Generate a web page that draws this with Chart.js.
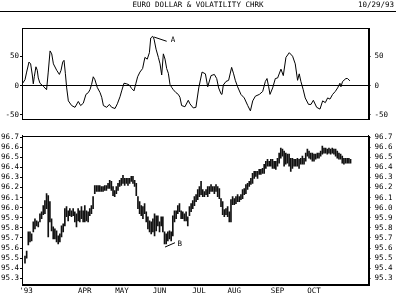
<!DOCTYPE html>
<html><head><meta charset="utf-8">
<script src="https://cdn.jsdelivr.net/npm/chart.js@4.4.0/dist/chart.umd.min.js"></script>
<style>
html,body{margin:0;padding:0;background:#fff;}
#wrap{position:relative;width:396px;height:297px;overflow:hidden;background:#fff;}
#c1{position:absolute;left:0;top:0;}
#c2{position:absolute;left:0;top:127px;}
</style></head><body>
<div id="wrap"><canvas id="c1" width="396" height="127"></canvas><canvas id="c2" width="396" height="170"></canvas></div>
<script>
const titleText = "EURO DOLLAR & VOLATILITY CHRK";
const dateText = "10/29/93";
const monthLabels = ["'93","APR","MAY","JUN","JUL","AUG","SEP","OCT"];
const monthPos = [0.6,36,58.4,81,104.7,126,152,174];
const volTicks = [-50,0,50];
const priceTicks = [95.3,95.4,95.5,95.6,95.7,95.8,95.9,96.0,96.1,96.2,96.3,96.4,96.5,96.6,96.7];

const volDay = [-1.4,0,1.0,2.4,3.4,4.4,5.0,5.6,6.6,7.4,8.0,9.0,11.0,13.0,14.0,15.1,16.1,17.1,19.1,20.7,21.7,22.7,23.5,24.3,25.1,26.1,28.1,30.1,32.1,33.5,35.1,36.7,38.1,39.1,40.1,41.1,42.1,43.5,45.2,46.2,47.2,49.2,50.8,52.2,54.2,55.6,57.2,58.2,59.6,61.2,62.8,64.2,65.6,66.8,67.8,69.2,70.8,72.2,73.6,74.9,75.7,76.9,77.7,78.9,80.3,81.3,82.3,83.3,84.3,85.3,86.3,87.3,88.3,89.3,90.9,92.3,93.3,94.3,96.3,98.3,99.3,101.3,102.9,104.6,106.6,108.6,110.0,112.0,114.0,115.4,116.6,118.0,118.6,119.4,121.0,122.6,124.4,125.6,126.6,128.0,130.0,132.0,134.1,135.7,137.1,138.7,141.1,143.1,144.7,145.7,146.7,147.5,149.1,150.7,152.1,154.1,155.5,157.1,159.1,161.1,162.7,164.1,165.1,166.1,167.5,168.7,170.7,172.2,173.6,175.6,177.6,179.2,180.8,182.2,183.6,185.2,186.8,188.2,189.6,190.2,191.2,193.2,194.2,195.6];
const volValue = [4,10,23,40,37,18,3,15,32,26,13,4,-1,-7,23,59,54,37,26,19,26,40,43,21,-4,-26,-34,-37,-27,-34,-30,-15,-12,-7,2,15,10,-3,-12,-20,-34,-37,-32,-37,-39,-31,-19,-9,4,3,1,-5,-9,4,15,23,29,48,45,56,81,84,79,62,48,37,18,54,45,29,21,2,-3,-7,-12,-15,-20,-34,-36,-25,-31,-38,-37,-4,23,20,-2,17,19,12,-4,-14,-15,1,7,9,31,20,9,-2,-15,-21,-34,-43,-26,-18,-15,-10,7,12,-2,-15,-4,12,13,28,17,48,56,50,37,9,20,7,-7,-21,-32,-32,-25,-37,-40,-26,-29,-21,-23,-15,-10,-4,4,-2,7,12,12,8];

const priceHigh = [95.52,95.57,95.76,95.76,95.74,95.86,95.89,95.87,95.86,95.94,
95.96,96.02,96.07,96.14,96.12,96.06,95.89,95.81,95.79,95.77,
95.72,95.74,95.82,95.84,95.99,96.01,95.97,95.99,95.97,95.99,
95.96,95.94,95.99,95.97,96.01,95.97,96.02,95.97,95.96,95.99,
96.02,96.11,96.22,96.22,96.22,96.22,96.21,96.21,96.22,96.22,
96.24,96.27,96.26,96.21,96.17,96.21,96.24,96.27,96.29,96.32,
96.29,96.29,96.29,96.29,96.31,96.31,96.27,96.24,96.11,96.06,
96.02,96.01,96.04,95.96,95.91,95.87,95.86,95.89,95.94,95.92,
95.92,95.86,95.91,95.91,95.76,95.74,95.76,95.77,95.76,95.92,
95.97,95.97,96.02,96.04,95.97,95.96,95.94,95.96,95.91,96.01,
96.04,96.07,96.11,
96.13,96.18,96.21,96.26,96.18,96.16,96.18,
96.21,96.21,96.23,96.21,96.21,96.23,96.21,96.19,96.09,96.06,
95.98,95.99,96.01,95.96,96.08,96.11,96.09,96.11,96.13,96.11,
96.13,96.18,96.19,96.23,96.24,96.26,96.29,96.34,96.36,96.36,
96.36,96.38,96.38,96.39,96.43,96.46,96.48,96.46,96.48,96.48,
96.46,96.46,96.49,96.54,96.59,96.58,96.56,96.54,96.53,96.53,
96.49,96.49,96.48,96.48,96.49,96.48,96.49,96.51,96.49,96.54,
96.58,96.56,96.54,96.54,96.53,96.53,96.54,96.54,96.56,96.61,
96.59,96.59,96.58,96.59,96.58,96.59,96.58,96.58,96.56,96.54,
96.53,96.51,96.49,96.49,96.49,96.49,96.48];
const priceLow = [95.45,95.50,95.63,95.66,95.67,95.76,95.79,95.82,95.81,95.86,
95.89,95.93,95.94,95.99,95.71,95.86,95.77,95.69,95.69,95.66,
95.64,95.66,95.71,95.76,95.82,95.91,95.87,95.92,95.91,95.92,
95.86,95.81,95.87,95.86,95.89,95.86,95.86,95.87,95.86,95.92,
95.94,95.99,96.14,96.16,96.16,96.16,96.16,96.16,96.17,96.17,
96.19,96.19,96.17,96.12,96.11,96.14,96.17,96.21,96.22,96.24,
96.22,96.24,96.22,96.24,96.26,96.24,96.21,96.12,95.99,95.94,
95.92,95.89,95.94,95.86,95.79,95.76,95.74,95.76,95.72,95.77,
95.82,95.76,95.82,95.76,95.64,95.64,95.67,95.69,95.67,95.72,
95.86,95.89,95.94,95.96,95.89,95.89,95.87,95.87,95.82,95.92,
95.96,95.99,96.02,
96.06,96.08,96.11,96.13,96.11,96.11,96.13,
96.11,96.14,96.16,96.16,96.14,96.16,96.11,96.09,96.01,95.93,
95.91,95.93,95.91,95.86,95.86,96.03,96.03,96.04,96.06,96.06,
96.08,96.09,96.13,96.14,96.18,96.21,96.23,96.24,96.29,96.31,
96.29,96.33,96.33,96.34,96.34,96.39,96.41,96.41,96.41,96.39,
96.39,96.38,96.41,96.44,96.49,96.51,96.41,96.43,96.44,96.41,
96.36,96.39,96.41,96.41,96.41,96.39,96.43,96.43,96.43,96.46,
96.51,96.49,96.48,96.46,96.46,96.48,96.49,96.49,96.51,96.53,
96.54,96.54,96.53,96.54,96.53,96.54,96.53,96.51,96.49,96.48,
96.48,96.44,96.43,96.44,96.44,96.44,96.44];

const annoVol = [{from:[77.7,82.6], to:[85.3,75.4], label:'A', at:[87.8,77]}];
const annoPrice = [{from:[84.3,95.61], to:[90.3,95.653], label:'B', at:[91.8,95.64]}];

const FONT = "'DejaVu Sans Mono', monospace";
Chart.defaults.font.family = FONT;
Chart.defaults.font.size = 7.5;
Chart.defaults.color = '#000';

const X_MIN = -1.8, X_MAX = 206.8;

function framePlugin(){
  return {id:'frame', afterDraw(chart){
    const a = chart.chartArea, ctx = chart.ctx;
    ctx.save(); ctx.strokeStyle = '#000'; ctx.lineWidth = 1;
    ctx.strokeRect(Math.round(a.left)+0.5, Math.round(a.top)+0.5, Math.round(a.right-a.left), Math.round(a.bottom-a.top));
    ctx.restore();
  }};
}
function annoPlugin(items, xId, yId){
  return {id:'anno', afterDatasetsDraw(chart){
    const ctx = chart.ctx, xs = chart.scales[xId], ys = chart.scales[yId];
    items.forEach(a => {
      ctx.save();
      ctx.strokeStyle = '#000'; ctx.lineWidth = 1;
      ctx.beginPath();
      ctx.moveTo(xs.getPixelForValue(a.from[0]), ys.getPixelForValue(a.from[1]));
      ctx.lineTo(xs.getPixelForValue(a.to[0]), ys.getPixelForValue(a.to[1]));
      ctx.stroke();
      ctx.fillStyle = '#000'; ctx.font = '7.5px ' + FONT;
      ctx.textAlign = 'left'; ctx.textBaseline = 'middle';
      ctx.fillText(a.label, xs.getPixelForValue(a.at[0]), ys.getPixelForValue(a.at[1]));
      ctx.restore();
    });
  }};
}
const headerPlugin = {id:'header', afterDraw(chart){
  const ctx = chart.ctx;
  ctx.save();
  ctx.fillStyle = '#000'; ctx.font = '7.5px ' + FONT;
  ctx.textAlign = 'right'; ctx.textBaseline = 'middle';
  ctx.fillText(dateText, 394, 5.5);
  ctx.strokeStyle = '#000'; ctx.lineWidth = 1;
  ctx.beginPath(); ctx.moveTo(0, 11.5); ctx.lineTo(396, 11.5); ctx.stroke();
  ctx.restore();
}};

function yAxis(pos, min, max, ticks, width, pad, zeroLine){
  return {
    type:'linear', position:pos, min:min, max:max,
    afterBuildTicks: s => { s.ticks = ticks.map(v => ({value:v})); },
    afterFit: s => { s.width = width; },
    ticks:{ padding:pad, autoSkip:false, font:{size:7.5}, color:'#000',
      callback: v => (ticks === priceTicks ? Number(v).toFixed(1) : String(v)) },
    grid:{ drawOnChartArea: !!zeroLine, drawTicks:true, tickLength:2, tickColor:'#000',
      color: zeroLine ? (c => (c.tick && c.tick.value === 0) ? '#000' : 'rgba(0,0,0,0)') : '#000',
      lineWidth:1 },
    border:{display:true, color:'#000'}
  };
}

new Chart(document.getElementById('c1'), {
  type:'line',
  data:{ datasets:[{
    data: volDay.map((d,i) => ({x:d, y:volValue[i]})),
    borderColor:'#000', borderWidth:1, pointRadius:0, tension:0, fill:false
  }]},
  options:{
    responsive:false, animation:false,
    layout:{padding:{top:0,left:0,right:0,bottom:5}},
    plugins:{
      legend:{display:false}, tooltip:{enabled:false},
      title:{display:true, text:titleText, color:'#000', font:{size:7.5, weight:'normal', family:FONT}, padding:{top:1,bottom:18}}
    },
    scales:{
      x:{type:'linear', min:X_MIN, max:X_MAX, display:false},
      y: yAxis('left', -56, 98, volTicks, 22, 1, true),
      y2: yAxis('right', -56, 98, volTicks, 27.5, 4, false)
    }
  },
  plugins:[framePlugin(), annoPlugin(annoVol,'x','y'), headerPlugin]
});

new Chart(document.getElementById('c2'), {
  type:'bar',
  data:{ datasets:[{
    data: priceHigh.map((h,i) => ({x:i, y:[priceLow[i], h]})),
    backgroundColor:'#111', borderWidth:0, barThickness:1, minBarLength:2
  }]},
  options:{
    responsive:false, animation:false,
    layout:{padding:{top:7,left:0,right:0,bottom:0}},
    plugins:{ legend:{display:false}, tooltip:{enabled:false} },
    scales:{
      x:{type:'linear', min:X_MIN, max:X_MAX, offset:false,
        afterBuildTicks: s => { s.ticks = monthPos.map(v => ({value:v})); },
        afterFit: s => { s.height = 13; },
        ticks:{ autoSkip:false, maxRotation:0, padding:1, font:{size:7.5}, color:'#000',
          callback: (v, i) => monthLabels[i] },
        grid:{ offset:false, drawOnChartArea:false, drawTicks:true, tickLength:2, tickColor:'#000', color:'#000' },
        border:{display:true, color:'#000'}
      },
      y: yAxis('left', 95.244, 96.715, priceTicks, 22, 1, false),
      y2: yAxis('right', 95.244, 96.715, priceTicks, 27.5, 4, false)
    }
  },
  plugins:[framePlugin(), annoPlugin(annoPrice,'x','y')]
});
</script>
</body></html>
